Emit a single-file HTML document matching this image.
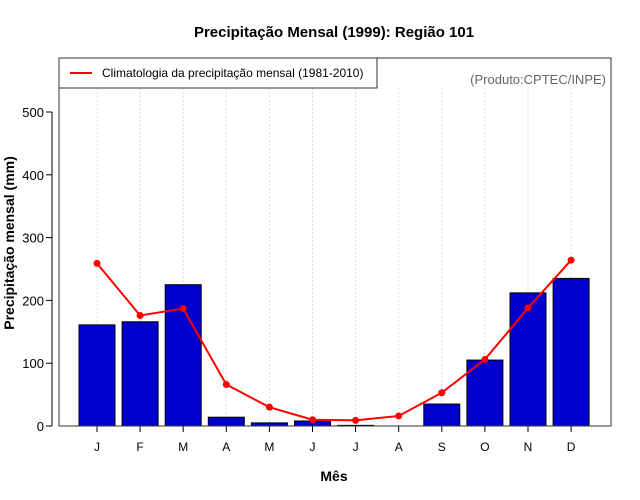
<!DOCTYPE html>
<html><head><meta charset="utf-8"><style>
body{margin:0;background:#fff;}
svg{display:block;font-family:"Liberation Sans",sans-serif;}
</style></head><body>
<svg id="chart" width="640" height="500">
<text x="334" y="37" text-anchor="middle" font-size="15" font-weight="bold">Precipitação Mensal (1999): Região 101</text>
<text x="334" y="481" text-anchor="middle" font-size="14" font-weight="bold">Mês</text>
<text transform="translate(14,243) rotate(-90)" text-anchor="middle" font-size="14" font-weight="bold">Precipitação mensal (mm)</text>
<g id="grid"></g><g id="bars"></g><g id="line"></g><g id="axes"></g>
<rect x="59" y="58" width="552" height="368" fill="none" stroke="#333" stroke-width="1"/>
<g>
<rect x="59" y="58" width="318" height="30" fill="#fff" stroke="#333"/>
<line x1="70" y1="73" x2="92" y2="73" stroke="red" stroke-width="2"/>
<text x="102" y="77" font-size="12">Climatologia da precipitação mensal (1981-2010)</text>
</g>
<text x="606" y="84" text-anchor="end" font-size="13" fill="#666">(Produto:CPTEC/INPE)</text>
</svg>
<script>
const months=["J","F","M","A","M","J","J","A","S","O","N","D"];
const observed=[161,166,225,14,5,8,1,0,35,105,212,235];
const climatology=[259,176,187,66,30,10,9,16,53,106,188,264];
const yTicks=[0,100,200,300,400,500];
const NS="http://www.w3.org/2000/svg";
const xs=i=>97+i*43.1;
const ys=v=>426-v*0.628;
function mk(parent,tag,attrs){const e=document.createElementNS(NS,tag);for(const k in attrs)e.setAttribute(k,attrs[k]);document.getElementById(parent).appendChild(e);return e;}
months.forEach((m,i)=>{
 const g=mk("grid","line",{x1:xs(i),x2:xs(i),y1:88,y2:426,stroke:"#ddd","stroke-dasharray":"2,2"});
 
 
 const b=mk("bars","rect",{x:xs(i)-18,y:ys(observed[i]),width:36,height:426-ys(observed[i]),fill:"#0000cc",stroke:"#000","stroke-width":1});
 
 
 const t=mk("axes","line",{x1:xs(i),x2:xs(i),y1:426,y2:432,stroke:"#000"});
 
 
 const l=mk("axes","text",{x:xs(i),y:451,"text-anchor":"middle","font-size":12});
 l.textContent=m;
 
 
});
const pts=climatology.map((v,i)=>xs(i)+","+ys(v)).join(" ");
const pl=mk("line","polyline",{points:pts,fill:"none",stroke:"red","stroke-width":2});


climatology.forEach((v,i)=>{
 const c=mk("line","circle",{cx:xs(i),cy:ys(v),r:3.5,fill:"red"});
 
 
});
const ax=mk("axes","line",{x1:52,x2:52,y1:ys(0),y2:ys(500),stroke:"#000"});


yTicks.forEach(v=>{
 const t=mk("axes","line",{x1:46,x2:52,y1:ys(v),y2:ys(v),stroke:"#000"});
 
 
 const l=mk("axes","text",{x:44,y:ys(v)+5,"text-anchor":"end","font-size":13});
 l.textContent=v;
 
 
});
</script>
</body></html>
